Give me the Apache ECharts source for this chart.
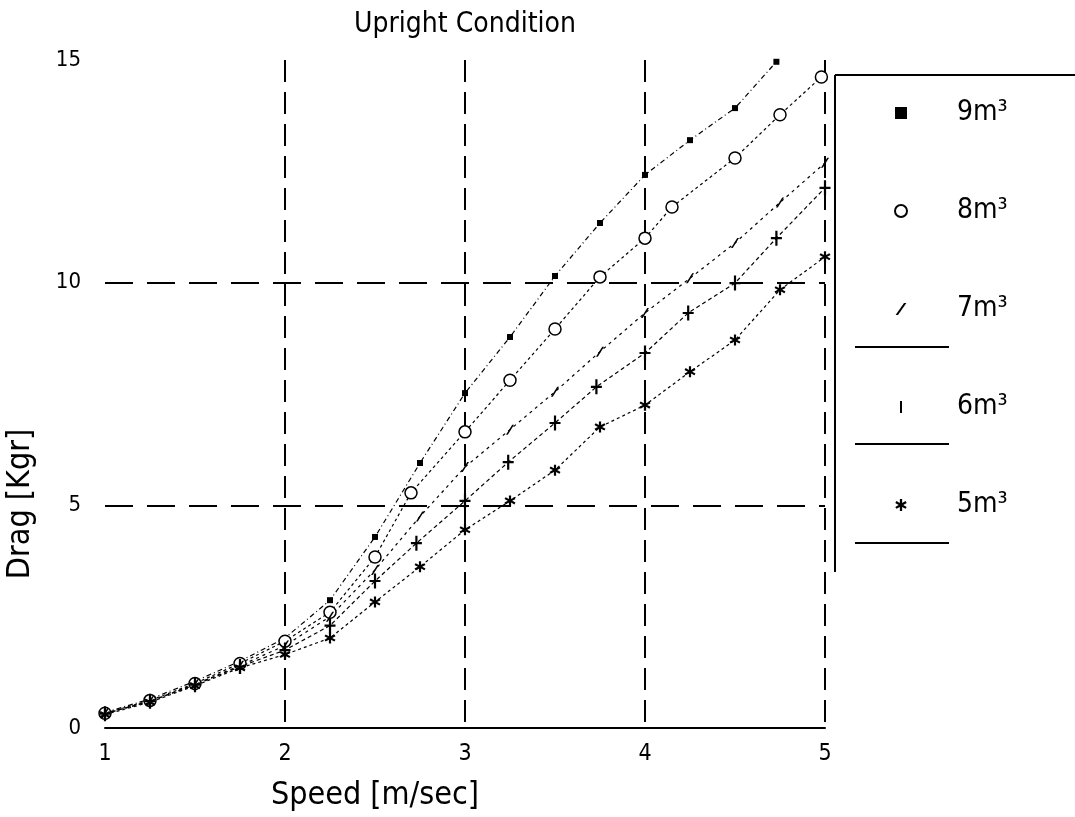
<!DOCTYPE html>
<html>
<head>
<meta charset="utf-8">
<script src="https://cdn.jsdelivr.net/npm/echarts@6/dist/echarts.min.js"></script>
<style>
html,body{margin:0;padding:0;background:#fff;}
#chart{width:1075px;height:817px;}
</style>
</head>
<body>
<div id="chart"></div>
<script>
// ---- data ----
const titleText = 'Upright Condition';
const xName = 'Speed [m/sec]';
const yName = 'Drag [Kgr]';
const seriesNames = ['9m\u00b3', '8m\u00b3', '7m\u00b3', '6m\u00b3', '5m\u00b3'];

const speed9 = [1.0, 1.25, 1.5, 1.75, 2.0, 2.25, 2.5, 2.75, 3.0, 3.25, 3.5, 3.75, 4.0, 4.25, 4.5, 4.73];
const drag9  = [0.35, 0.65, 1.05, 1.5, 2.02, 2.87, 4.29, 5.95, 7.52, 8.78, 10.15, 11.34, 12.42, 13.2, 13.92, 14.96];

const speed8 = [1.0, 1.25, 1.5, 1.75, 2.0, 2.25, 2.5, 2.7, 3.0, 3.25, 3.5, 3.75, 4.0, 4.15, 4.5, 4.75, 4.98];
const drag8  = [0.33, 0.62, 1.0, 1.45, 1.95, 2.6, 3.84, 5.28, 6.65, 7.81, 8.96, 10.13, 11.0, 11.7, 12.8, 13.77, 14.62];

const speed7 = [1.0, 1.25, 1.5, 1.75, 2.0, 2.25, 2.5, 2.75, 3.0, 3.25, 3.5, 3.75, 4.0, 4.25, 4.5, 4.75, 5.0];
const drag7  = [0.33, 0.6, 0.98, 1.4, 1.85, 2.5, 3.55, 4.75, 5.86, 6.7, 7.55, 8.45, 9.32, 10.1, 10.89, 11.8, 12.69];

const speed6 = [1.0, 1.25, 1.5, 1.75, 2.0, 2.25, 2.5, 2.73, 3.0, 3.24, 3.5, 3.73, 4.0, 4.24, 4.5, 4.73, 5.0];
const drag6  = [0.32, 0.6, 0.97, 1.38, 1.75, 2.3, 3.3, 4.15, 5.1, 5.97, 6.85, 7.66, 8.42, 9.32, 9.99, 11.0, 12.13];

const speed5 = [1.0, 1.25, 1.5, 1.75, 2.0, 2.25, 2.5, 2.75, 3.0, 3.25, 3.5, 3.75, 4.0, 4.25, 4.5, 4.75, 5.0];
const drag5  = [0.3, 0.58, 0.95, 1.35, 1.65, 2.02, 2.83, 3.62, 4.45, 5.1, 5.79, 6.76, 7.25, 8.0, 8.71, 9.84, 10.58];

const xTicks = [1, 2, 3, 4, 5];
const yTicks = [0, 5, 10, 15];

// ---- chart ----
const FONT = '"DejaVu Sans Condensed", "Liberation Sans Narrow", "Liberation Sans", sans-serif';
const pair = (xs, ys) => xs.map((x, i) => [x, ys[i]]);

const symSquare = 'rect';
const symSlash = 'path://M0,10L7,0L9,0L2,10Z';
const symPlus = 'path://M4,0h2v14h-2zM0,6h10v2h-10z';
const symBar = 'path://M0,0h2v12h-2z';
const symStar = 'path://M4,0h2v3.5l3,-1.7l1,1.7l-3,1.7l3,1.7l-1,1.7l-3,-1.7v3.6h-2v-3.6l-3,1.7l-1,-1.7l3,-1.7l-3,-1.7l1,-1.7l3,1.7z';

const sets = [
  {d: pair(speed9, drag9), sym: symSquare, size: 6, dash: [5, 3, 1, 3], fill: '#000'},
  {d: pair(speed8, drag8), sym: 'circle', size: 12, dash: [3, 3], fill: '#fff'},
  {d: pair(speed7, drag7), sym: symSlash, size: [8, 10], dash: [3, 4], fill: '#000'},
  {d: pair(speed6, drag6), sym: symPlus, size: [11, 15], dash: [4, 3], fill: '#000'},
  {d: pair(speed5, drag5), sym: symStar, size: 11, dash: [3, 3], fill: '#000'}
];
const legendIcons = [symSquare, 'circle', symSlash, symBar, symStar];

const series = sets.map((s, i) => ({
  name: seriesNames[i],
  type: 'line',
  data: s.d,
  symbol: s.sym,
  symbolSize: s.size,
  showAllSymbol: true,
  clip: true,
  lineStyle: {color: '#000', width: 1.2, type: s.dash},
  itemStyle: {color: s.fill, borderColor: '#000', borderWidth: i === 1 ? 1.5 : 0},
  emphasis: {disabled: true},
  animation: false,
  z: 3
}));

const chart = echarts.init(document.getElementById('chart'), null, {renderer: 'canvas'});
chart.setOption({
  backgroundColor: '#fff',
  animation: false,
  title: {
    text: titleText,
    left: 460, top: 6,
    textAlign: 'center',
    textStyle: {fontFamily: FONT, fontSize: 28, fontWeight: 'normal', color: '#000'}
  },
  legend: {
    orient: 'vertical',
    left: 889, top: 92,
    itemWidth: 12, itemHeight: 12,
    itemGap: 66,
    selectedMode: false,
    data: seriesNames.map((n, i) => ({name: n, icon: legendIcons[i]})),
    textStyle: {fontFamily: FONT, fontSize: 28, lineHeight: 32, color: '#000', padding: [0, 0, 0, 45]}
  },
  grid: {left: 105, right: 250, top: 60, bottom: 89, containLabel: false, outerBoundsMode: 'none'},
  xAxis: {
    type: 'value',
    min: xTicks[0], max: xTicks[xTicks.length - 1], interval: 1,
    name: xName,
    nameLocation: 'middle',
    nameGap: 52,
    nameTextStyle: {fontFamily: FONT, fontSize: 32, color: '#000', padding: [0, 180, 0, 0]},
    axisLine: {show: true, lineStyle: {color: '#000', width: 2}},
    axisTick: {show: false},
    axisLabel: {margin: 15, fontFamily: FONT, fontSize: 23, color: '#000'},
    splitLine: {show: true, showMinLine: false, lineStyle: {color: '#000', width: 2, type: [22, 10]}}
  },
  yAxis: {
    type: 'value',
    min: yTicks[0], max: yTicks[yTicks.length - 1], interval: 5,
    name: yName,
    nameLocation: 'middle',
    nameRotate: 90,
    nameGap: 68,
    nameTextStyle: {fontFamily: FONT, fontSize: 32, color: '#000', padding: [0, 220, 0, 0]},
    axisLine: {show: false},
    axisTick: {show: false},
    axisLabel: {margin: 24, fontFamily: FONT, fontSize: 22, color: '#000'},
    splitLine: {show: true, showMinLine: false, showMaxLine: false, lineStyle: {color: '#000', width: 2, type: [28, 14]}}
  },
  graphic: [
    {type: 'line', shape: {x1: 835, y1: 75, x2: 835, y2: 572}, style: {stroke: '#000', lineWidth: 2}},
    {type: 'line', shape: {x1: 835, y1: 75, x2: 1075, y2: 75}, style: {stroke: '#000', lineWidth: 2}},
    {type: 'line', shape: {x1: 855, y1: 347, x2: 949, y2: 347}, style: {stroke: '#000', lineWidth: 2}},
    {type: 'line', shape: {x1: 855, y1: 444, x2: 949, y2: 444}, style: {stroke: '#000', lineWidth: 2}},
    {type: 'line', shape: {x1: 855, y1: 543, x2: 949, y2: 543}, style: {stroke: '#000', lineWidth: 2}}
  ],
  series: series
});
</script>
</body>
</html>
